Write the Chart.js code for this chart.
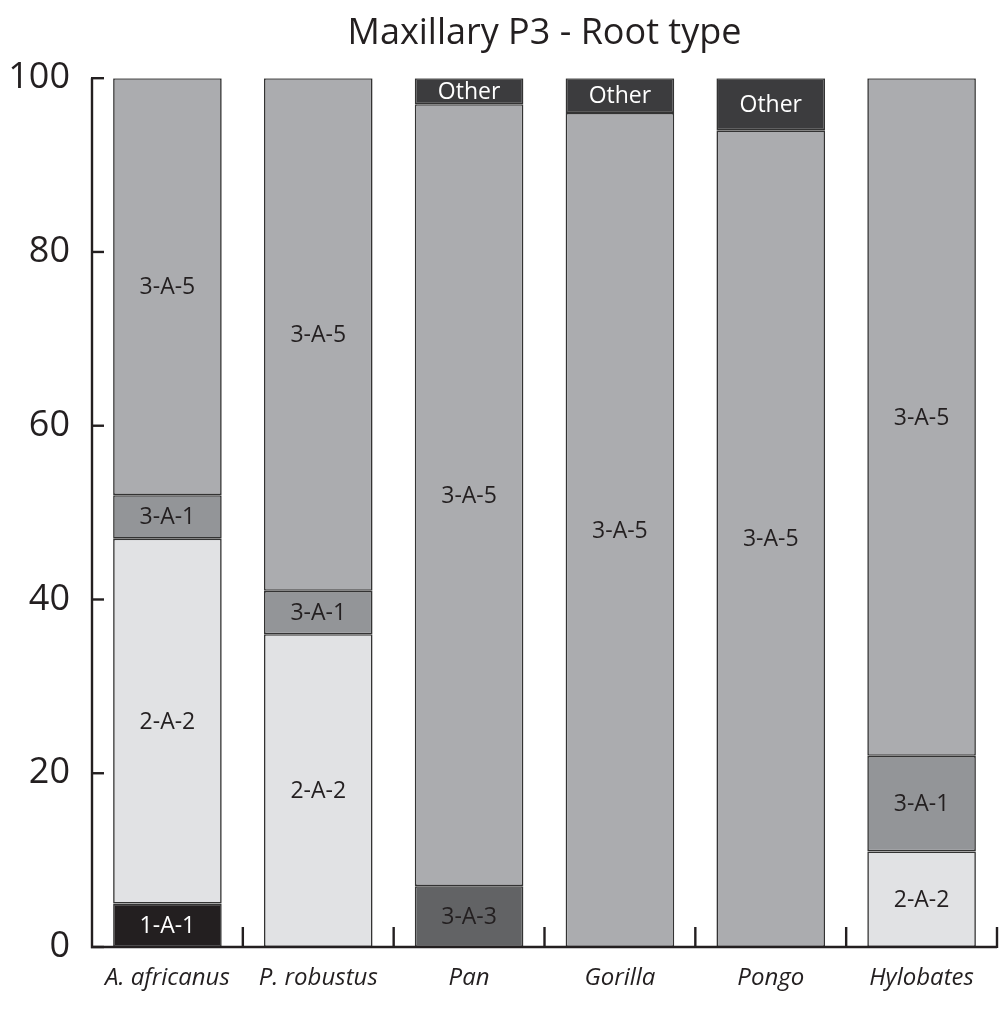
<!DOCTYPE html>
<html>
<head>
<meta charset="utf-8">
<script src="https://cdn.jsdelivr.net/npm/chart.js@4/dist/chart.umd.min.js"></script>
<style>
  html, body { margin: 0; padding: 0; background: #ffffff; }
  #wrap { width: 1001px; height: 1017px; position: relative; }
</style>
</head>
<body>
<div id="wrap"><canvas id="c" width="1001" height="1017"></canvas></div>
<script>
// ---- Data ----
const categories = ['A. africanus', 'P. robustus', 'Pan', 'Gorilla', 'Pongo', 'Hylobates'];
const rootTypes = ['1-A-1', '2-A-2', '3-A-1', '3-A-3', '3-A-5', 'Other'];
const v_1A1   = [5,  null, null, null, null, null];
const v_2A2   = [42, 36,   null, null, null, 11];
const v_3A1   = [5,  5,    null, null, null, 11];
const v_3A3   = [null, null, 7,  null, null, null];
const v_3A5   = [48, 59,   90,   96,   94,   78];
const v_Other = [null, null, 3,  4,    6,    null];
const yTicks = [0, 20, 40, 60, 80, 100];
const titleText = 'Maxillary P3 - Root type';

// ---- Styles ----
const fills = ['#231f20', '#e1e2e4', '#939598', '#626365', '#abacaf', '#3c3c3e'];
const textColors = ['#ffffff', '#231f20', '#231f20', '#231f20', '#231f20', '#ffffff'];
const series = [v_1A1, v_2A2, v_3A1, v_3A3, v_3A5, v_Other];

const datasets = series.map((d, i) => ({
  label: rootTypes[i],
  data: d,
  backgroundColor: fills[i],
  borderColor: '#333333',
  borderWidth: 1.6,
  borderSkipped: false,
  barPercentage: 0.72,
  categoryPercentage: 1.0,
  labelColor: textColors[i]
}));

const segmentLabels = {
  id: 'segmentLabels',
  afterDatasetsDraw(chart) {
    const ctx = chart.ctx;
    ctx.save();
    ctx.font = '23px "Open Sans", sans-serif';
    ctx.textAlign = 'center';
    ctx.textBaseline = 'middle';
    chart.data.datasets.forEach((ds, di) => {
      const meta = chart.getDatasetMeta(di);
      meta.data.forEach((el, i) => {
        const v = ds.data[i];
        if (v === null || v === 0) return;
        const props = el.getProps(['x', 'y', 'base'], true);
        ctx.fillStyle = ds.labelColor;
        ctx.fillText(ds.label, props.x, (props.y + props.base) / 2 + 1);
      });
    });
    ctx.restore();
  }
};

const axesDraw = {
  id: 'axesDraw',
  afterDatasetsDraw(chart) {
    const ctx = chart.ctx;
    const xs = chart.scales.x, ys = chart.scales.y;
    const left = chart.chartArea.left, right = chart.chartArea.right;
    const y0 = ys.getPixelForValue(0), y100 = ys.getPixelForValue(100);
    ctx.save();
    ctx.strokeStyle = '#231f20';
    ctx.lineWidth = 2.4;
    ctx.lineCap = 'butt';
    ctx.beginPath();
    ctx.moveTo(left, y100);
    ctx.lineTo(left, y0);
    ctx.lineTo(right, y0);
    ctx.stroke();
    // y ticks inward
    yTicks.forEach(t => {
      const py = ys.getPixelForValue(t);
      ctx.beginPath();
      ctx.moveTo(left - 1, py);
      ctx.lineTo(left + 12, py);
      ctx.stroke();
    });
    // x ticks at category boundaries, upward
    for (let i = 0; i < categories.length; i++) {
      const a = xs.getPixelForValue(i);
      const b = i + 1 < categories.length ? xs.getPixelForValue(i + 1) : a + (a - xs.getPixelForValue(i - 1));
      const px = (a + b) / 2;
      ctx.beginPath();
      ctx.moveTo(px, y0 + 1);
      ctx.lineTo(px, y0 - 20);
      ctx.stroke();
    }
    ctx.restore();
  }
};

new Chart(document.getElementById('c'), {
  type: 'bar',
  data: { labels: categories, datasets },
  plugins: [segmentLabels, axesDraw],
  options: {
    responsive: false,
    animation: false,
    devicePixelRatio: 1,
    layout: { padding: { left: 0, right: 4, top: 0, bottom: 0 } },
    plugins: {
      legend: { display: false },
      tooltip: { enabled: false },
      title: {
        display: true,
        text: titleText,
        fullSize: false,
        color: '#231f20',
        font: { family: '"Open Sans", sans-serif', size: 36, weight: 'normal' },
        padding: { top: 12, bottom: 23 }
      }
    },
    scales: {
      x: {
        stacked: true,
        grid: { display: false },
        border: { display: false },
        ticks: {
          color: '#231f20',
          font: { family: '"Open Sans", sans-serif', size: 24, style: 'italic' },
          padding: 9,
          maxRotation: 0
        },
        afterFit(scale) { scale.height = 70; }
      },
      y: {
        stacked: true,
        min: 0,
        max: 100,
        afterBuildTicks(scale) { scale.ticks = yTicks.map(v => ({ value: v })); },
        grid: { display: false },
        border: { display: false },
        ticks: {
          color: '#231f20',
          font: { family: '"Open Sans", sans-serif', size: 36 },
          padding: 14
        },
        afterFit(scale) { scale.width = 92; }
      }
    }
  }
});
</script>
</body>
</html>
